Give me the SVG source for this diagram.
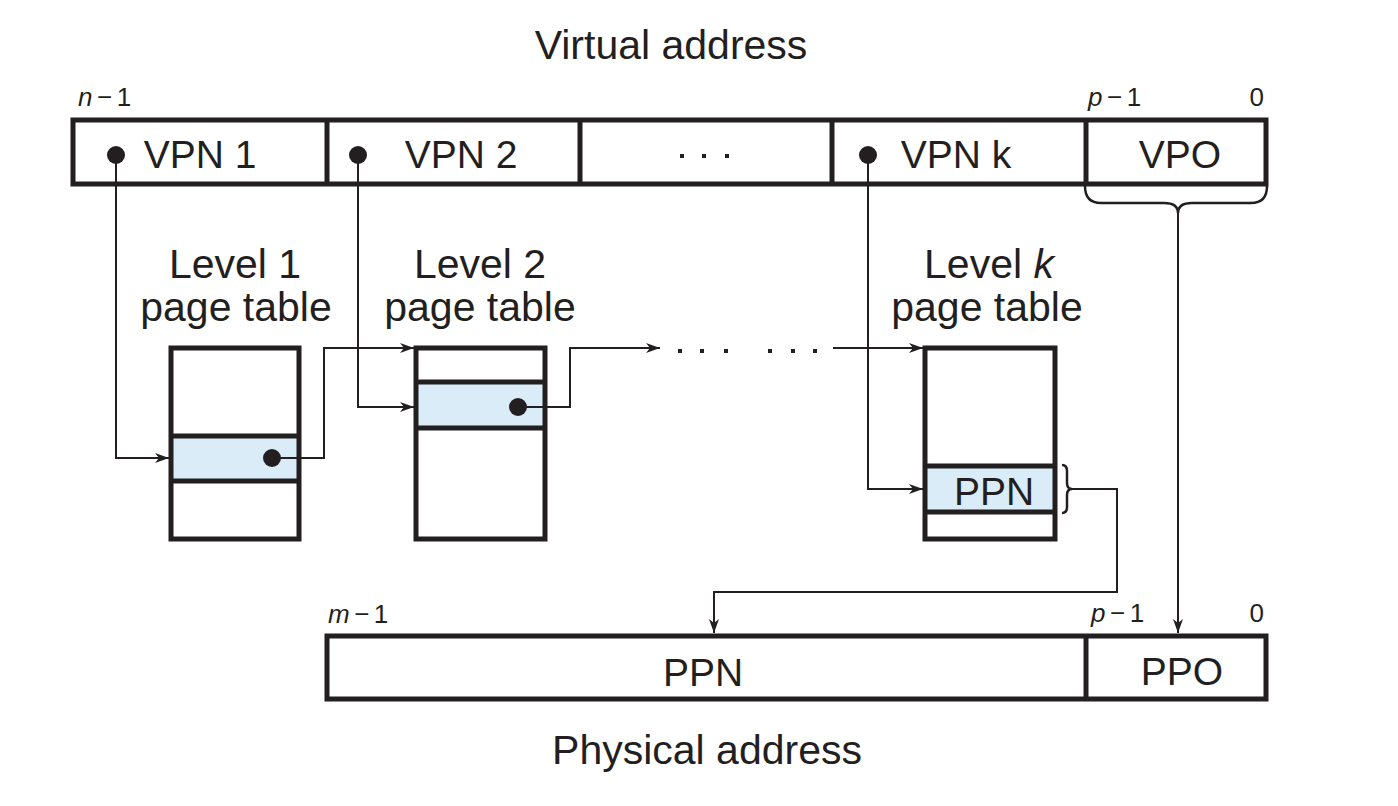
<svg xmlns="http://www.w3.org/2000/svg" width="1398" height="806" viewBox="0 0 1398 806">
<defs>
<style>
.box{fill:none;stroke:#231f20;stroke-width:5}
.div{stroke:#231f20;stroke-width:5}
.row{fill:#d9ecf8;stroke:none}
.con{fill:none;stroke:#231f20;stroke-width:2}
.br{fill:none;stroke:#231f20;stroke-width:2.5}
.t{font-family:"Liberation Sans",Arial,sans-serif;font-size:39px;fill:#231f20}
.l{font-family:"Liberation Sans",Arial,sans-serif;font-size:41px;fill:#231f20}
.s{font-family:"Liberation Sans",Arial,sans-serif;font-size:26px;fill:#231f20;letter-spacing:4.5px}
.dot{fill:#231f20}
</style>
<marker id="ah" markerWidth="14" markerHeight="10" refX="14" refY="5" orient="auto" markerUnits="userSpaceOnUse">
<path d="M0,0 L14,5 L0,10 L4,5 z" fill="#231f20"/>
</marker>
</defs>
<rect width="1398" height="806" fill="#fff"/>

<text class="l" x="671" y="59" text-anchor="middle">Virtual address</text>
<text class="l" x="707" y="764" text-anchor="middle">Physical address</text>

<g id="virtual-address">
<rect class="box" x="73" y="120" width="1193" height="64"/>
<line class="div" x1="327" y1="120" x2="327" y2="184"/>
<line class="div" x1="580" y1="120" x2="580" y2="184"/>
<line class="div" x1="832" y1="120" x2="832" y2="184"/>
<line class="div" x1="1086" y1="120" x2="1086" y2="184"/>
<circle class="dot" cx="116" cy="155" r="9"/>
<circle class="dot" cx="358" cy="155" r="9"/>
<circle class="dot" cx="868" cy="155" r="9"/>
<text class="t" x="200" y="168" text-anchor="middle">VPN 1</text>
<text class="t" x="461" y="168" text-anchor="middle">VPN 2</text>
<rect class="dot" x="680" y="154" width="4" height="4"/>
<rect class="dot" x="702" y="154" width="4" height="4"/>
<rect class="dot" x="725" y="154" width="4" height="4"/>
<text class="t" x="956" y="168" text-anchor="middle">VPN k</text>
<text class="t" x="1180" y="168" text-anchor="middle">VPO</text>
<text class="s" x="78" y="106"><tspan font-style="italic">n</tspan>−1</text>
<text class="s" x="1088" y="106"><tspan font-style="italic">p</tspan>−1</text>
<text class="s" x="1264" y="106" text-anchor="end" style="letter-spacing:0">0</text>
</g>

<g id="level1">
<text class="l" x="235" y="278" text-anchor="middle">Level 1</text>
<text class="l" x="236" y="321" text-anchor="middle">page table</text>
<rect class="row" x="171" y="436" width="128" height="45"/>
<rect class="box" x="171" y="348" width="128" height="191"/>
<line class="div" x1="171" y1="436" x2="299" y2="436"/>
<line class="div" x1="171" y1="481" x2="299" y2="481"/>
<circle class="dot" cx="272" cy="458" r="9"/>
</g>

<g id="level2">
<text class="l" x="480" y="278" text-anchor="middle">Level 2</text>
<text class="l" x="480" y="321" text-anchor="middle">page table</text>
<rect class="row" x="416" y="382" width="129" height="46"/>
<rect class="box" x="416" y="348" width="129" height="191"/>
<line class="div" x1="416" y1="382" x2="545" y2="382"/>
<line class="div" x1="416" y1="428" x2="545" y2="428"/>
<circle class="dot" cx="518" cy="407" r="9"/>
</g>

<g id="levelk">
<text class="l" x="989" y="278" text-anchor="middle">Level <tspan font-style="italic">k</tspan></text>
<text class="l" x="987" y="321" text-anchor="middle">page table</text>
<rect class="row" x="925" y="466" width="130" height="46"/>
<rect class="box" x="925" y="348" width="130" height="191"/>
<line class="div" x1="925" y1="466" x2="1055" y2="466"/>
<line class="div" x1="925" y1="512" x2="1055" y2="512"/>
<text class="t" x="994" y="505" text-anchor="middle">PPN</text>
</g>

<g id="physical-address">
<rect class="box" x="327" y="636" width="939" height="63"/>
<line class="div" x1="1086" y1="636" x2="1086" y2="699"/>
<text class="t" x="703" y="686" text-anchor="middle">PPN</text>
<text class="t" x="1182" y="685" text-anchor="middle">PPO</text>
<text class="s" x="328" y="623"><tspan font-style="italic">m</tspan>−1</text>
<text class="s" x="1091" y="622"><tspan font-style="italic">p</tspan>−1</text>
<text class="s" x="1264" y="622" text-anchor="end" style="letter-spacing:0">0</text>
</g>

<g id="connectors">
<path class="con" d="M116 155 V458 H169" marker-end="url(#ah)"/>
<path class="con" d="M272 458 H324 V348 H414" marker-end="url(#ah)"/>
<path class="con" d="M358 155 V407 H414" marker-end="url(#ah)"/>
<path class="con" d="M518 407 H570 V348 H660" marker-end="url(#ah)"/>
<rect class="dot" x="678" y="349" width="4" height="4"/>
<rect class="dot" x="700" y="349" width="4" height="4"/>
<rect class="dot" x="724" y="349" width="4" height="4"/>
<rect class="dot" x="768" y="349" width="4" height="4"/>
<rect class="dot" x="791" y="349" width="4" height="4"/>
<rect class="dot" x="813" y="349" width="4" height="4"/>
<path class="con" d="M833 348 H923" marker-end="url(#ah)"/>
<path class="con" d="M868 155 V489 H923" marker-end="url(#ah)"/>
<path class="br" d="M1062 465 Q1067 465 1067 471 V483 Q1067 489 1072 489 Q1067 489 1067 495 V507 Q1067 513 1062 513"/>
<path class="con" d="M1072 489 H1117 V592 H714 V633" marker-end="url(#ah)"/>
<path class="br" d="M1085 186 Q1085 203 1101 203 H1164 Q1178 203 1178 213 Q1178 203 1192 203 H1251 Q1267 203 1267 186"/>
<path class="con" d="M1178 212 V633" marker-end="url(#ah)"/>
</g>
</svg>
